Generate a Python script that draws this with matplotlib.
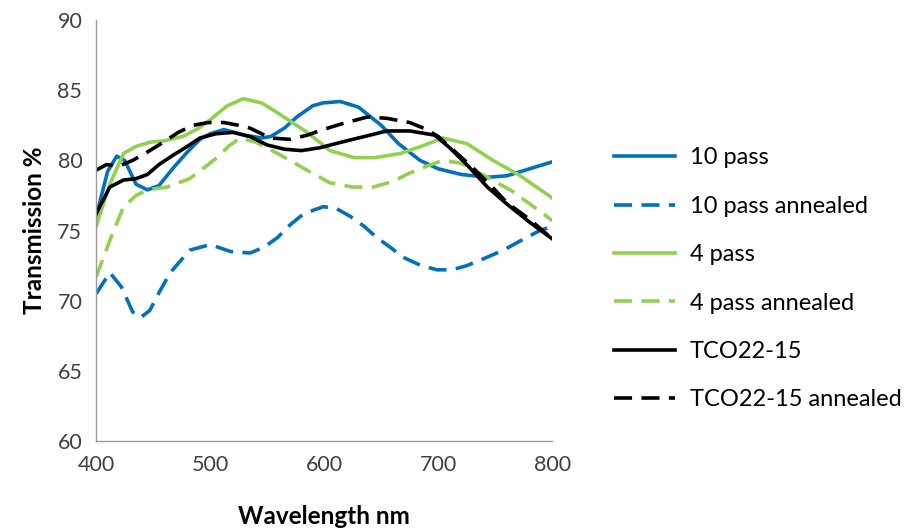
#Transmission spectra of coated samples, before and after annealing
import matplotlib.pyplot as plt

# wavelength / transmission pairs
wl_10 = [400, 410, 418, 425, 435, 445, 455, 468, 480, 491, 500, 512, 530, 545, 553, 565,
         576, 590, 599, 614, 630, 650, 665, 684, 700, 720, 743, 760, 780, 800]
tr_10 = [76.0, 79.2, 80.3, 80.0, 78.3, 77.9, 78.2, 79.5, 80.6, 81.5, 81.9, 82.2, 81.8, 81.6, 81.7, 82.3,
         83.1, 83.9, 84.1, 84.2, 83.8, 82.5, 81.2, 80.0, 79.4, 79.0, 78.8, 78.9, 79.4, 79.9]

wl_10a = [400, 412, 422, 432, 439, 447, 456, 465, 482, 500, 518, 535, 547, 559, 570, 582,
          599, 610, 623, 635, 646, 658, 669, 685, 699, 712, 725, 740, 757, 775, 789, 800]
tr_10a = [70.5, 72.0, 71.0, 69.2, 68.8, 69.3, 70.7, 72.0, 73.6, 74.0, 73.5, 73.4, 73.8, 74.5, 75.4, 76.2,
          76.7, 76.6, 76.0, 75.3, 74.5, 73.8, 73.1, 72.5, 72.2, 72.2, 72.5, 73.0, 73.6, 74.4, 75.0, 75.3]

wl_4 = [400, 412, 424, 435, 447, 460, 476, 490, 500, 515, 529, 545, 559, 572, 585, 605,
        626, 645, 667, 685, 704, 725, 748, 770, 795, 800]
tr_4 = [75.3, 78.3, 80.5, 81.0, 81.3, 81.4, 81.7, 82.3, 82.9, 83.9, 84.4, 84.1, 83.4, 82.7, 82.0, 80.7,
        80.2, 80.2, 80.5, 81.0, 81.6, 81.2, 80.0, 79.0, 77.6, 77.3]

wl_4a = [400, 412, 424, 435, 445, 462, 482, 495, 506, 516, 526, 540, 559, 585, 605, 625,
         643, 660, 675, 690, 704, 720, 743, 765, 792, 800]
tr_4a = [71.7, 74.3, 76.7, 77.5, 77.9, 78.1, 78.7, 79.5, 80.2, 81.0, 81.6, 81.3, 80.5, 79.3, 78.4, 78.1,
         78.1, 78.5, 79.1, 79.6, 80.0, 79.8, 78.8, 77.8, 76.2, 75.7]

wl_tco = [400, 412, 424, 435, 445, 455, 468, 480, 491, 505, 520, 535, 550, 565, 580, 596,
          615, 635, 655, 675, 697, 710, 725, 743, 760, 780, 800]
tr_tco = [76.2, 78.1, 78.6, 78.7, 79.0, 79.7, 80.4, 81.0, 81.6, 81.9, 82.0, 81.7, 81.1, 80.8, 80.7, 80.9,
          81.3, 81.7, 82.1, 82.1, 81.8, 80.9, 79.7, 78.1, 76.9, 75.6, 74.4]

wl_tcoa = [400, 409, 420, 432, 445, 459, 472, 485, 498, 512, 525, 535, 545, 553, 570, 585,
           599, 615, 638, 655, 675, 690, 700, 715, 730, 745, 760, 780, 800]
tr_tcoa = [79.3, 79.7, 79.6, 80.0, 80.6, 81.3, 82.0, 82.5, 82.7, 82.7, 82.5, 82.3, 81.9, 81.6, 81.5, 81.8,
           82.2, 82.6, 83.1, 83.0, 82.7, 82.2, 81.7, 80.6, 79.5, 78.3, 77.0, 75.8, 74.4]

BLUE = "#0070C0"
GREEN = "#92D050"
DASH = (5, 2.6)

plt.rcParams['font.family'] = ['Lato', 'DejaVu Sans']

fig = plt.figure(figsize=(9.07, 5.30), dpi=100)
ax = fig.add_axes([0.106, 0.168, 0.503, 0.794])

ax.plot(wl_10, tr_10, color=BLUE, lw=2.6, label="10 pass")
ax.plot(wl_10a, tr_10a, color=BLUE, lw=2.6, dashes=DASH, label="10 pass annealed")
ax.plot(wl_4, tr_4, color=GREEN, lw=2.6, label="4 pass")
ax.plot(wl_4a, tr_4a, color=GREEN, lw=2.6, dashes=DASH, label="4 pass annealed")
ax.plot(wl_tco, tr_tco, color="black", lw=2.6, label="TCO22-15")
ax.plot(wl_tcoa, tr_tcoa, color="black", lw=2.6, dashes=DASH, label="TCO22-15 annealed")

ax.set_xlim(400, 800)
ax.set_ylim(60, 90)
ax.set_xticks([400, 500, 600, 700, 800])
ax.set_yticks(range(60, 91, 5))
ax.tick_params(length=0, labelsize=15.5, colors="#404040", pad=10)
for s in ["top", "right"]:
    ax.spines[s].set_visible(False)
for s in ["left", "bottom"]:
    ax.spines[s].set_color("#9a9a9a")
    ax.spines[s].set_linewidth(1)

ax.set_xlabel("Wavelength nm", fontsize=17.5, fontweight="bold", labelpad=22)
ax.set_ylabel("Transmission %", fontsize=17.5, fontweight="bold", labelpad=8)

ax.legend(loc="center left", bbox_to_anchor=(1.135, 0.385), frameon=False, fontsize=17,
          handlelength=2.6, handletextpad=0.6, labelspacing=1.16, borderpad=0, borderaxespad=0)

fig.savefig("out.png", dpi=100)
